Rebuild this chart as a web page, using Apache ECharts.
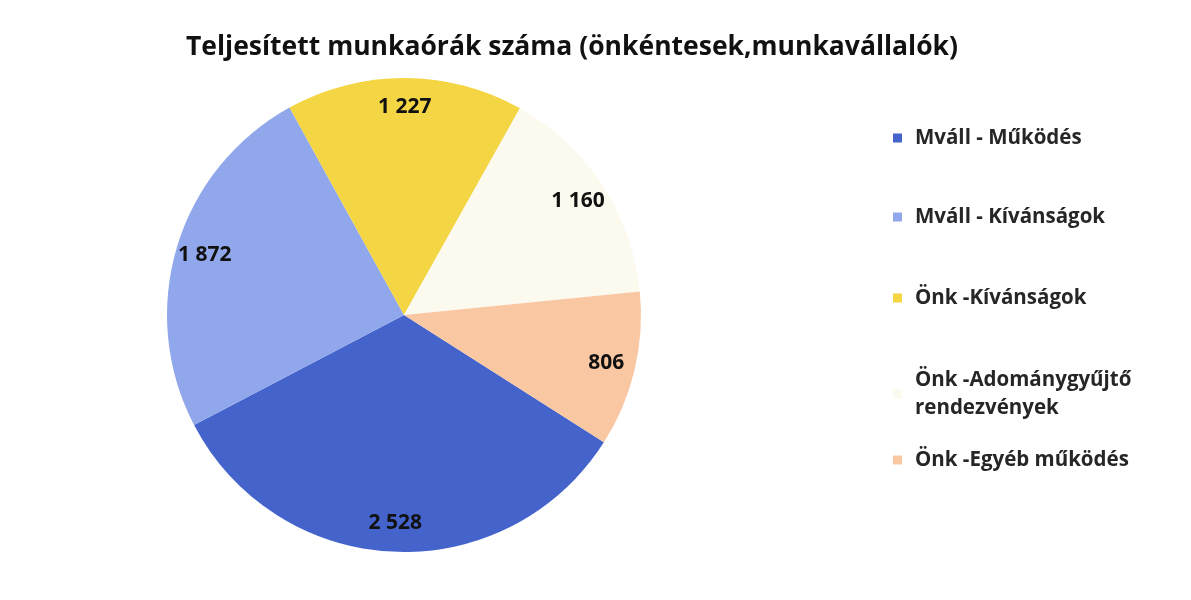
<!DOCTYPE html>
<html>
<head>
<meta charset="utf-8">
<script src="https://cdn.jsdelivr.net/npm/echarts@6/dist/echarts.min.js"></script>
<style>html,body{margin:0;padding:0;background:#fff;}#c{width:1191px;height:600px;}</style>
</head>
<body>
<div id="c"></div>
<script>
const titleText = 'Teljesített munkaórák száma (önkéntesek,munkavállalók)';
const categories = ['Mváll - Működés', 'Mváll - Kívánságok', 'Önk -Kívánságok', 'Önk -Adománygyűjtő rendezvények', 'Önk -Egyéb működés'];
const legendLabels = ['Mváll - Működés', 'Mváll - Kívánságok', 'Önk -Kívánságok', 'Önk -Adománygyűjtő\nrendezvények', 'Önk -Egyéb működés'];
const values = [2528, 1872, 1227, 1160, 806];
const colors = ['#4464cc', '#91a7ec', '#f4d544', '#fcfaef', '#f9c8a3'];

const FONT = 'Open Sans';
const data = categories.map((n, i) => ({ name: n, value: values[i], itemStyle: { color: colors[i] } }));
const fmt = v => String(v).replace(/\B(?=(\d{3})+(?!\d))/g, ' ');

const legendTops = [127, 206, 287, 366, 449];
const legends = categories.map((n, i) => ({
  data: [n],
  orient: 'vertical',
  left: 893,
  top: legendTops[i],
  padding: 0,
  itemWidth: 9,
  itemHeight: 9,
  icon: 'rect',
  selectedMode: false,
  formatter: () => legendLabels[i],
  textStyle: { fontFamily: FONT, fontWeight: 'bold', fontSize: 20.5, color: '#262626', lineHeight: i === 3 ? 28 : 22, padding: [0, 0, 0, 8] }
}));

const chart = echarts.init(document.getElementById('c'));
chart.setOption({
  animation: false,
  backgroundColor: '#fff',
  title: {
    text: titleText,
    left: 567, textAlign: 'center', top: 29,
    textStyle: { fontFamily: FONT, fontWeight: 'bold', fontSize: 26.5, color: '#111' }
  },
  legend: legends,
  series: [
    {
      type: 'pie',
      center: [404, 315],
      radius: [0, 237],
      startAngle: -32.5,
      clockwise: true,
      data: data,
      label: { show: false },
      labelLine: { show: false },
      itemStyle: { borderWidth: 0 },
      emphasis: { disabled: true }
    },
    {
      type: 'pie',
      center: [404, 315],
      radius: [173, 237],
      startAngle: -32.5,
      clockwise: true,
      silent: true,
      data: categories.map((n, i) => ({ name: n, value: values[i] })),
      itemStyle: { color: 'rgba(0,0,0,0)' },
      label: {
        show: true, position: 'inside',
        formatter: p => fmt(p.value),
        fontFamily: FONT, fontWeight: 'bold', fontSize: 21, color: '#111'
      },
      labelLine: { show: false },
      emphasis: { disabled: true }
    }
  ]
});
</script>
</body>
</html>
